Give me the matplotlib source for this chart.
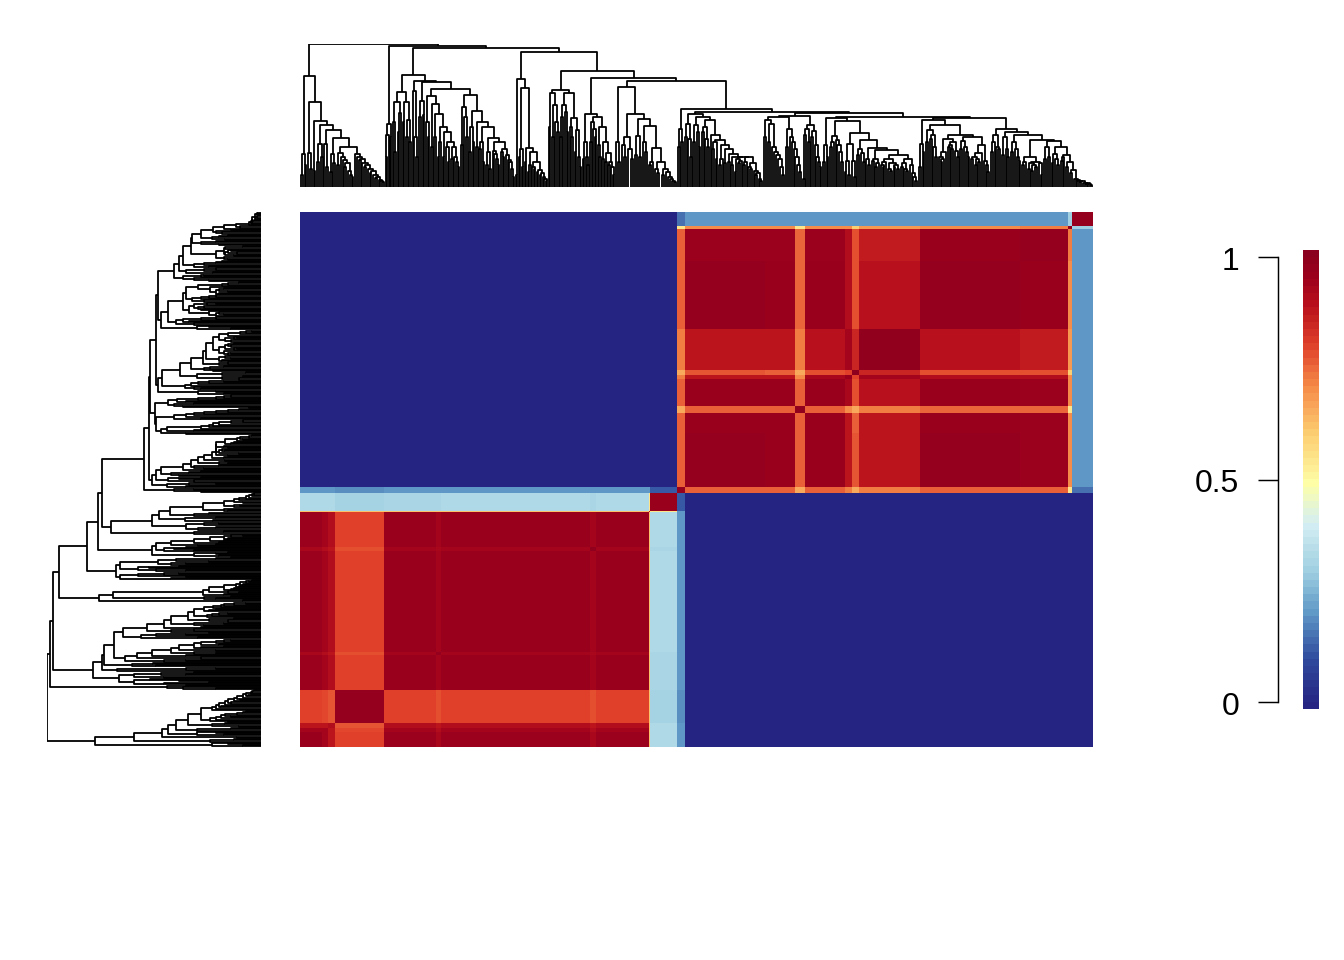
import numpy as np
import matplotlib
matplotlib.use("Agg")
import matplotlib.pyplot as plt
from matplotlib.collections import LineCollection
from matplotlib.colors import LinearSegmentedColormap
from matplotlib.transforms import ScaledTranslation

W, H = 1344, 960

# heatmap groups, same order along both axes (size in leaf units)
GROUP_NAMES = ["a1", "a2", "a3", "b", "c", "d", "e", "f", "g", "h", "i", "j",
               "k1", "k2", "l", "m", "n", "o", "p", "q1", "q2", "r", "x"]
GROUP_SIZES = [22, 6, 7, 49, 52, 5, 149, 6, 53, 1, 27, 8,
               80, 30, 10, 40, 7, 7, 61, 100, 48, 4, 21]

# upper triangle of the similarity matrix, missing tail of a row = 0
SIM_UPPER = [
    [.96, .93, .88, .80, .95, .92, .95, .92, .95, .62, .33, .20],
    [.93, .88, .79, .93, .90, .93, .90, .93, .62, .33, .20],
    [.90, .77, .90, .88, .90, .88, .90, .62, .33, .20],
    [.97, .80, .78, .80, .78, .80, .62, .31, .19],
    [.96, .93, .96, .93, .96, .62, .32, .20],
    [.97, .93, .92, .93, .62, .32, .20],
    [.96, .93, .96, .62, .33, .20],
    [.98, .93, .62, .32, .20],
    [.96, .62, .33, .20],
    [.90, .55, .20],
    [.96, .12],
    [.97, .76, .76, .66, .76, .72, .66, .72, .76, .76, .55, .15],
    [.97, .96, .76, .96, .88, .77, .88, .97, .95, .70, .20],
    [.96, .76, .96, .88, .76, .88, .96, .95, .70, .20],
    [.98, .76, .70, .66, .72, .75, .75, .55, .20],
    [.96, .92, .78, .89, .96, .95, .70, .20],
    [.96, .80, .93, .90, .90, .70, .20],
    [.99, .85, .78, .78, .60, .20],
    [.98, .89, .87, .68, .20],
    [.97, .96, .70, .20],
    [.97, .72, .20],
    [.98, .30],
    [.97],
]

# dendrogram: merge height between neighbouring leaves, per segment.
# last value of each segment joins it to the next one
SEG_WIDTHS = [85, 7, 123, 33, 34, 33, 62, 7, 79, 22, 17, 20, 96, 72, 103]
GAPS_1 = [12, 33, 22, 111, 34, 18, 85, 16, 66, 25, 43, 30, 62, 43, 20, 57, 15, 33, 24, 49,
          22, 34, 30, 27, 20, 24, 16, 12, 10, 40, 33, 30, 27, 28, 24, 20, 22, 18, 14, 16,
          12, 9, 10, 7, 6, 5, 143]
GAPS_2 = [30, 52, 63, 50, 141]
GAPS_3 = [65, 35, 85, 55, 74, 95, 65, 85, 50, 67, 45, 112, 96, 50, 30, 106,
          70, 86, 72, 105, 65, 50, 91, 40, 83, 50, 73, 30, 45, 60, 30, 55, 40, 25, 45, 28, 40,
          30, 25, 20, 98, 42, 80, 70, 50, 92, 35, 60, 45, 76, 40, 65, 38, 45, 25, 60,
          22, 35, 18, 49, 36, 33, 28, 22, 45, 35, 30, 38, 32, 27, 25, 18, 10, 139]
GAPS_4 = [12, 108, 30, 38, 20, 99, 25, 39, 15, 22, 35, 20, 18, 25, 15, 17, 12, 14, 10, 8, 6, 135]
GAPS_5 = [60, 94, 50, 82, 65, 55, 97, 50, 70, 82, 75, 55, 94, 60, 50, 69, 35, 57, 30, 20, 116]
GAPS_6 = [28, 45, 30, 22, 73, 45, 65, 58, 50, 70, 42, 30, 60, 28, 45, 25, 34, 22, 25, 20, 12, 109]
GAPS_7 = [45, 25, 100, 42, 30, 50, 38, 28, 73, 32, 51, 30, 68, 45, 35, 61, 22, 25, 39,
          18, 14, 25, 12, 18, 15, 10, 8, 6, 5, 106]
GAPS_8 = [40, 58, 45, 78]
GAPS_9 = [50, 63, 48, 30, 73, 45, 62, 55, 40, 70, 55, 60, 48, 40, 67, 52, 38, 45, 28, 47,
          22, 28, 42, 24, 38, 25, 33, 22, 30, 15, 28, 24, 26, 30, 22, 25, 30, 20, 18, 24,
          16, 12, 14, 8, 6, 75]
GAPS_10 = [50, 67, 45, 63, 40, 35, 32, 28, 20, 12, 70]
GAPS_11 = [40, 58, 50, 45, 38, 30, 22, 15, 71]
GAPS_12 = [8, 52, 58, 45, 62, 50, 56, 42, 30, 25, 20, 74]
GAPS_13 = [25, 42, 30, 69, 40, 45, 51, 47, 42, 35, 25, 66, 15, 26, 12, 43, 26, 10, 54, 32,
           38, 34, 25, 47, 28, 22, 39, 26, 28, 20, 24, 37, 22, 20, 25, 28, 18, 16, 24, 20,
           22, 18, 32, 20, 24, 18, 16, 28, 22, 14, 10, 6, 70]
GAPS_14 = [20, 43, 35, 67, 45, 57, 48, 52, 40, 30, 62, 30, 25, 28, 35, 48, 40, 42, 38, 45,
           36, 30, 52, 38, 46, 40, 35, 30, 50, 28, 30, 22, 28, 25, 34, 42, 26, 22, 15, 69]
GAPS_15 = [35, 45, 52, 40, 38, 58, 32, 50, 38, 30, 55, 35, 45, 38, 30, 26, 52, 22, 25, 30,
           18, 24, 16, 22, 20, 25, 24, 12, 47, 28, 40, 30, 46, 24, 33, 28, 22, 40, 26, 30,
           32, 20, 25, 14, 17, 8, 7, 6, 5, 6, 4, 3, 4, 3, 2, 0]
ALL_GAPS = [GAPS_1, GAPS_2, GAPS_3, GAPS_4, GAPS_5, GAPS_6, GAPS_7, GAPS_8,
            GAPS_9, GAPS_10, GAPS_11, GAPS_12, GAPS_13, GAPS_14, GAPS_15]

ROOT_HEIGHT = 143

BAR_TICKS = [0, 0.5, 1]
BAR_LABELS = ["0", "0.5", "1"]
CMAP_COLORS = ["#262482", "#2f4a9d", "#5f97c6", "#a0d0e2", "#d3eef3", "#ffffa8",
               "#fdcf73", "#f68e4a", "#e0402a", "#b8101c", "#9c001c", "#8a001e"]
CMAP_STOPS = [0.0, 0.1, 0.2, 0.3, 0.4, 0.49, 0.6, 0.7, 0.8, 0.89, 0.95, 1.0]


def px_axes(fig, x0, y0, x1, y1):
    """axes from pixel box, y counted from the top of the figure"""
    return fig.add_axes([x0 / W, 1 - y1 / H, (x1 - x0) / W, (y1 - y0) / H])


def sim_matrix():
    n = len(GROUP_SIZES)
    m = np.zeros((n, n))
    for i, row in enumerate(SIM_UPPER):
        for j, v in enumerate(row):
            m[i, i + j] = v
            m[i + j, i] = v
    return m


def leaf_positions():
    xs = []
    start = 0
    for width, gaps in zip(SEG_WIDTHS, ALL_GAPS):
        step = width / len(gaps)
        xs.extend(start + step * (k + 0.5) for k in range(len(gaps)))
        start += width
    return np.array(xs)


def build_tree(gaps, xs, lo, hi, segs):
    """split at the highest gap, returns node position and height"""
    if lo == hi:
        return xs[lo], 0
    k = lo + int(np.argmax(gaps[lo:hi]))
    xl, hl = build_tree(gaps, xs, lo, k, segs)
    xr, hr = build_tree(gaps, xs, k + 1, hi, segs)
    h = gaps[k]
    segs.append([(xl, hl), (xl, h), (xr, h), (xr, hr)])
    return (xl + xr) / 2, h


def main():
    fig = plt.figure(figsize=(W / 100, H / 100), dpi=100, facecolor="white")
    plt.rcParams["font.family"] = ["Liberation Sans", "DejaVu Sans"]

    cmap = LinearSegmentedColormap.from_list("rdylbu", list(zip(CMAP_STOPS, CMAP_COLORS)), N=256)

    # heatmap
    ax = px_axes(fig, 300, 212, 1093, 747)
    edges = np.concatenate([[0], np.cumsum(GROUP_SIZES)])
    ax.pcolormesh(edges, edges, sim_matrix(), cmap=cmap, vmin=0, vmax=1,
                  shading="flat", rasterized=True)
    ax.set_xlim(edges[0], edges[-1])
    ax.set_ylim(edges[0], edges[-1])
    ax.axis("off")

    # dendrograms, one tree drawn twice
    gaps = np.concatenate([np.array(g, dtype=float) for g in ALL_GAPS])
    xs = leaf_positions()
    segs = []
    build_tree(gaps, xs, 0, len(xs) - 1, segs)

    ax_top = px_axes(fig, 300, 44, 1093, 187)
    ax_top.add_collection(LineCollection(segs, colors="black", linewidths=1.3))
    ax_top.set_xlim(edges[0], edges[-1])
    ax_top.set_ylim(0, ROOT_HEIGHT)
    ax_top.axis("off")

    ax_left = px_axes(fig, 47, 212, 261, 747)
    flipped = [[(y, x) for x, y in s] for s in segs]
    ax_left.add_collection(LineCollection(flipped, colors="black", linewidths=1.3))
    ax_left.set_xlim(ROOT_HEIGHT, 0)
    ax_left.set_ylim(edges[0], edges[-1])
    ax_left.axis("off")

    # colour bar
    ax_bar = px_axes(fig, 1303, 250, 1319, 709)
    levels = np.linspace(1, 0, 64).reshape(-1, 1)
    ax_bar.imshow(levels, cmap=cmap, vmin=0, vmax=1, aspect="auto", interpolation="nearest")
    ax_bar.axis("off")

    ax_scale = px_axes(fig, 1278, 257, 1279, 702)
    ax_scale.set_ylim(0, 1)
    ax_scale.set_xticks([])
    ax_scale.set_yticks(BAR_TICKS)
    ax_scale.set_yticklabels(BAR_LABELS, fontsize=23, color="black")
    ax_scale.tick_params(axis="y", length=14.4, width=1.05, pad=13.5)
    shift = ScaledTranslation(0, -1 / 72, fig.dpi_scale_trans)
    for lab in ax_scale.get_yticklabels():
        lab.set_transform(lab.get_transform() + shift)
    for side in ["top", "right", "bottom"]:
        ax_scale.spines[side].set_visible(False)
    ax_scale.spines["left"].set_linewidth(1.05)
    ax_scale.patch.set_alpha(0)

    fig.savefig("out.png", dpi=100)


if __name__ == "__main__":
    main()
